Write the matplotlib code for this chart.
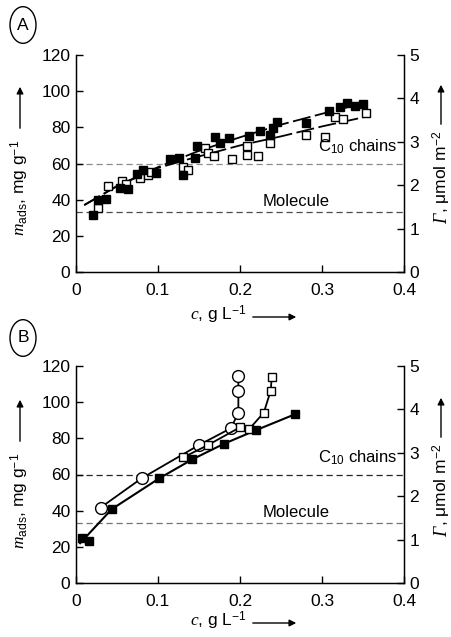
import numpy as np
import matplotlib
matplotlib.use("Agg")
import matplotlib.pyplot as plt
from matplotlib.patches import Circle

plt.rcParams['font.family'] = ['Liberation Sans', 'DejaVu Sans']
plt.rcParams['mathtext.fontset'] = 'custom'
plt.rcParams['mathtext.rm'] = 'Liberation Sans'
plt.rcParams['mathtext.it'] = 'Liberation Serif:italic'

# ---- panel A data (c in g/L, m_ads in mg/g) ----
a_filled_c = [0.021, 0.027, 0.037, 0.054, 0.064, 0.074, 0.082, 0.098, 0.115, 0.125,
              0.131, 0.145, 0.147, 0.170, 0.176, 0.186, 0.211, 0.224, 0.236, 0.240,
              0.245, 0.281, 0.309, 0.322, 0.330, 0.340, 0.350]
a_filled_m = [31.5, 39.8, 40.4, 46.6, 45.7, 54.0, 56.4, 55.0, 62.3, 63.2,
              53.6, 62.9, 69.7, 74.8, 71.5, 73.9, 75.2, 78.0, 75.8, 79.5,
              83.1, 82.6, 89.2, 91.4, 93.6, 91.8, 92.7]
a_open_c = [0.027, 0.039, 0.056, 0.061, 0.078, 0.088, 0.091, 0.130, 0.136, 0.157,
            0.161, 0.168, 0.190, 0.208, 0.208, 0.222, 0.237, 0.280, 0.304, 0.316,
            0.326, 0.354]
a_open_m = [35.2, 47.6, 50.5, 48.7, 51.8, 53.6, 55.5, 57.9, 56.4, 68.4,
            66.0, 64.2, 62.3, 69.7, 64.7, 64.2, 71.2, 75.8, 74.8, 85.9,
            84.4, 88.1]
# fitted curves
a_fit_filled_c = [0.010, 0.050, 0.100, 0.150, 0.200, 0.250, 0.300, 0.350]
a_fit_filled_m = [37.0, 47.5, 58.0, 67.0, 74.5, 81.5, 87.5, 93.3]
a_fit_open_c = [0.010, 0.050, 0.100, 0.130, 0.200, 0.250, 0.300, 0.355]
a_fit_open_m = [37.0, 47.5, 57.5, 61.5, 70.0, 75.0, 80.5, 86.0]

# ---- panel B data ----
b_filled_c = [0.007, 0.016, 0.0435, 0.1016, 0.142, 0.180, 0.220, 0.267]
b_filled_m = [24.7, 23.2, 40.8, 57.9, 68.4, 76.9, 84.6, 93.3]
b_circle_c = [0.030, 0.080, 0.150, 0.189, 0.198, 0.198, 0.198]
b_circle_m = [41.7, 57.9, 76.3, 85.6, 94.2, 106.4, 114.5]
b_square_c = [0.131, 0.161, 0.200, 0.211, 0.229, 0.2375, 0.2387]
b_square_m = [69.5, 76.3, 86.1, 85.0, 94.2, 106.4, 114.1]
b_fit_filled_c = [0.005, 0.0435, 0.1016, 0.142, 0.180, 0.220, 0.267]
b_fit_filled_m = [22.0, 40.8, 57.9, 68.4, 76.9, 84.6, 93.3]

c10_level = 60
molecule_level = 33

W, H = 452, 637
fig = plt.figure(figsize=(W / 100, H / 100), dpi=100)


def fx(px):
    return px / W


def fy(py):
    return 1 - py / H


def style_axes(ax):
    ax.set_xlim(0, 0.4)
    ax.set_ylim(0, 120)
    ax.set_xticks([0, 0.1, 0.2, 0.3, 0.4])
    ax.set_xticklabels(['0', '0.1', '0.2', '0.3', '0.4'])
    ax.set_yticks(range(0, 121, 20))
    ax.spines['top'].set_visible(False)
    ax.tick_params(direction='in', length=5, labelsize=12.5, width=1, pad=4)
    ax.tick_params(axis='x', pad=8)
    for s in ax.spines.values():
        s.set_linewidth(1)
    ax2 = ax.twinx()
    ax2.set_ylim(0, 5)
    ax2.set_yticks(range(0, 6))
    ax2.spines['top'].set_visible(False)
    ax2.tick_params(direction='in', length=5, labelsize=12.5, width=1, pad=4)
    return ax2


def decorate(ax, top_px, xlab_px, letter, c60_col, c33_col):
    ax.axhline(c10_level, color=c60_col, ls=(0, (5, 3)), lw=0.9, zorder=1)
    ax.axhline(molecule_level, color=c33_col, ls=(0, (5, 3)), lw=0.9, zorder=1)
    ax.text(0.392, c10_level + 4, r'C$_{10}$ chains', ha='right', va='bottom', fontsize=12)
    ax.text(0.268, molecule_level + 2, 'Molecule', ha='center', va='bottom', fontsize=12)
    off = top_px - 55
    # y label left
    fig.text(fx(20), fy(188 + off), r'$m_{\mathrm{ads}}$, mg g$^{-1}$', rotation=90,
             ha='center', va='center', fontsize=12.5)
    ax.annotate('', xy=(fx(20), fy(84 + off)), xytext=(fx(20), fy(131 + off)),
                xycoords='figure fraction',
                arrowprops=dict(arrowstyle='-|>', color='black', lw=1, mutation_scale=10))
    # y label right: italic serif Gamma followed by the unit
    fig.text(fx(447), fy(224 + off), 'Γ', rotation=90, rotation_mode='anchor',
             ha='left', va='baseline', fontsize=13, family='Liberation Serif', style='italic')
    fig.text(fx(447), fy(213 + off), r', μmol m$^{-2}$', rotation=90, rotation_mode='anchor',
             ha='left', va='baseline', fontsize=12.5)
    ax.annotate('', xy=(fx(441), fy(82 + off)), xytext=(fx(441), fy(127 + off)),
                xycoords='figure fraction',
                arrowprops=dict(arrowstyle='-|>', color='black', lw=1, mutation_scale=10))
    # x label
    fig.text(fx(218), fy(xlab_px), r'$c$, g L$^{-1}$', ha='center', va='center', fontsize=12.5)
    ax.annotate('', xy=(fx(299), fy(xlab_px + 2)), xytext=(fx(250), fy(xlab_px + 2)),
                xycoords='figure fraction',
                arrowprops=dict(arrowstyle='-|>', color='black', lw=1, mutation_scale=10))
    # panel letter
    fig.patches.append(Circle((fx(23), fy(25 + off)), 13 / W, transform=fig.transFigure,
                              fill=False, lw=1, ec='black'))
    fig.text(fx(23), fy(25 + off), letter, ha='center', va='center', fontsize=12.5)


# panel A
axA = fig.add_axes([76 / W, 1 - 272 / H, 328 / W, 217 / H])
style_axes(axA)
axA.plot(a_fit_filled_c, a_fit_filled_m, color='black', lw=1.3, dashes=(10, 2.5), zorder=2)
axA.plot(a_fit_open_c, a_fit_open_m, color='black', lw=1.3, dashes=(10, 2.5), zorder=2)
axA.plot(a_open_c, a_open_m, 's', ms=6.2, mfc='white', mec='black', mew=1, ls='none', zorder=3)
axA.plot(a_filled_c, a_filled_m, 's', ms=6.2, mfc='black', mec='black', ls='none', zorder=4)
decorate(axA, 55, 315, 'A', '0.55', '0.3')

# panel B
axB = fig.add_axes([76 / W, 1 - 583 / H, 328 / W, 217 / H])
style_axes(axB)
axB.plot(b_fit_filled_c, b_fit_filled_m, color='black', lw=1.5, zorder=2)
axB.plot(b_filled_c, b_filled_m, 's', ms=6.2, mfc='black', mec='black', ls='none', zorder=4)
axB.plot(b_circle_c, b_circle_m, '-o', color='black', lw=1.3, ms=8.5, mfc='white',
         mec='black', mew=1, zorder=3)
axB.plot(b_square_c, b_square_m, '-s', color='black', lw=1.3, ms=6.2, mfc='white',
         mec='black', mew=1, zorder=3)
decorate(axB, 368, 621, 'B', '0.15', '0.45')

fig.savefig('out.png', dpi=100)
